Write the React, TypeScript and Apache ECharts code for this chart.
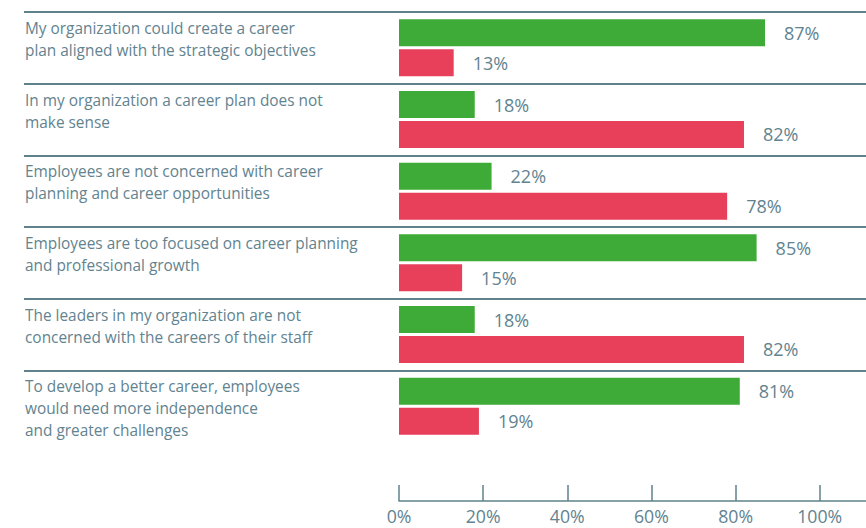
import React, { useEffect, useRef } from "react";
import * as echarts from "echarts";

const categories: string[] = [
  "My organization could create a career\nplan aligned with the strategic objectives",
  "In my organization a career plan does not\nmake sense",
  "Employees are not concerned with career\nplanning and career opportunities",
  "Employees are too focused on career planning\nand professional growth",
  "The leaders in my organization are not\nconcerned with the careers of their staff",
  "To develop a better career, employees\nwould need more independence\nand greater challenges",
];
const agreeValues: number[] = [87, 18, 22, 85, 18, 81];
const disagreeValues: number[] = [13, 82, 78, 15, 82, 19];
const tickValues: number[] = [0, 20, 40, 60, 80, 100];

const GREEN = "#3eaa37";
const RED = "#e8405b";
const TEXT = "#62838f";
const LINE = "#5f828d";

export default function App() {
  const ref = useRef<HTMLDivElement>(null);
  useEffect(() => {
    if (!ref.current) return;
    const chart = echarts.init(ref.current, null, { renderer: "svg" });
    const padLines = (s: string) => {
      const n = s.split("\n").length;
      let out = s;
      for (let i = n; i < 3; i++) out += "\n ";
      return out;
    };
    chart.setOption({
      animation: false,
      textStyle: { fontFamily: "Open Sans" },
      grid: [
        { left: 24, right: 0, top: 12, height: 430 },
        { left: 399, right: 0, top: 12, height: 430 },
        { left: 24, right: 0, top: 14.5, height: 430 },
      ],
      xAxis: [
        { gridIndex: 0, type: "value", show: false, min: 0, max: 1 },
        {
          gridIndex: 1,
          type: "value",
          min: 0,
          max: 111,
          interval: 20,
          offset: 59,
          splitLine: { show: false },
          axisLine: { show: true, lineStyle: { color: LINE, width: 1.5 } },
          axisTick: {
            show: true,
            inside: true,
            length: 16,
            lineStyle: { color: LINE, width: 1.5 },
            customValues: tickValues,
          },
          axisLabel: {
            color: TEXT,
            fontSize: 17.7,
            margin: 6,
            fontFamily: "Open Sans",
            customValues: tickValues,
            formatter: (v: number) => `${v}%`,
          },
        },
        { gridIndex: 2, type: "value", show: false, min: 0, max: 1 },
      ],
      yAxis: [
        {
          gridIndex: 0,
          type: "category",
          inverse: true,
          data: categories,
          axisLine: { show: false },
          axisTick: { show: false },
          axisLabel: { show: false },
          splitLine: {
            show: true,
            showMaxLine: false,
            lineStyle: { color: LINE, width: 2 },
          },
        },
        {
          gridIndex: 1,
          type: "category",
          inverse: true,
          data: categories,
          show: false,
        },
        {
          gridIndex: 2,
          type: "category",
          inverse: true,
          data: categories,
          axisLine: { show: false },
          axisTick: { show: false },
          splitLine: { show: false },
          axisLabel: {
            inside: true,
            margin: 1,
            color: TEXT,
            fontSize: 15.4,
            lineHeight: 22,
            fontFamily: "Open Sans",
            formatter: (v: string) => padLines(v),
          },
        },
      ],
      series: [
        {
          name: "Agree",
          type: "bar",
          xAxisIndex: 1,
          yAxisIndex: 1,
          data: agreeValues,
          barWidth: 27,
          barGap: "11%",
          itemStyle: { color: GREEN },
          label: {
            show: true,
            position: "right",
            distance: 19,
            color: TEXT,
            fontSize: 18,
            fontFamily: "Open Sans",
            formatter: (p: any) => `${p.value}%`,
          },
        },
        {
          name: "Disagree",
          type: "bar",
          xAxisIndex: 1,
          yAxisIndex: 1,
          data: disagreeValues,
          barWidth: 27,
          itemStyle: { color: RED },
          label: {
            show: true,
            position: "right",
            distance: 19,
            color: TEXT,
            fontSize: 18,
            fontFamily: "Open Sans",
            formatter: (p: any) => `${p.value}%`,
          },
        },
      ],
    });
    return () => chart.dispose();
  }, []);
  return (
    <div
      ref={ref}
      style={{ position: "fixed", left: 0, top: 0, width: 866, height: 528, background: "#fff" }}
    />
  );
}
